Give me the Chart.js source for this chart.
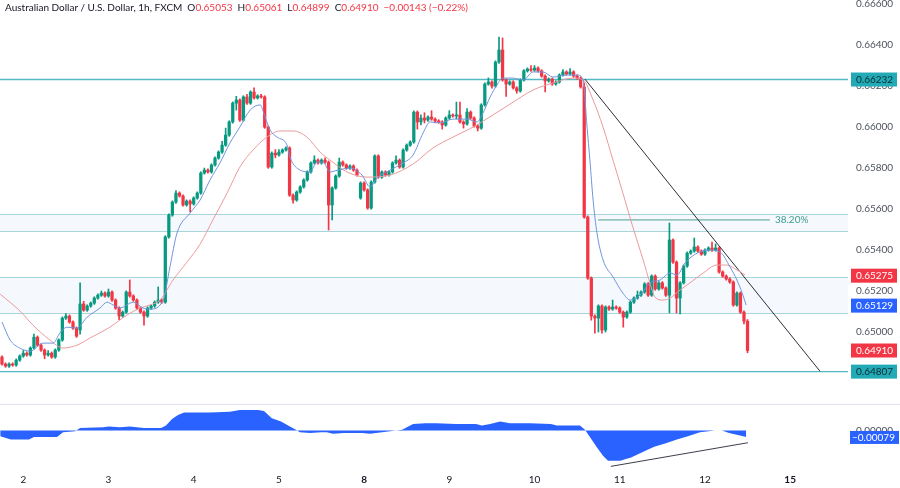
<!DOCTYPE html>
<html>
<head>
<meta charset="utf-8">
<script src="https://cdn.jsdelivr.net/npm/chart.js@4.4.0/dist/chart.umd.min.js"></script>
<style>
  body { margin: 0; background: #fff; width: 900px; height: 488px; overflow: hidden; position: relative; }
  #pricebox { position: absolute; left: 0; top: 0; width: 900px; height: 404px; }
  #oscbox { position: absolute; left: 0; top: 404px; width: 900px; height: 84px; }
  #sep { position: absolute; left: 0; top: 404px; width: 900px; height: 1px; background: #e0e3eb; z-index: 2; }
  #title { position: absolute; left: 5px; top: 1px; font: 10px Lato, 'Noto Sans', sans-serif; color: #131722; white-space: nowrap; z-index: 3; }
  #title .v { color: #f23645; }
  #title .g { margin-left: 5px; }
</style>
</head>
<body>
<div id="title">Australian Dollar / U.S. Dollar, 1h, FXCM<span class="g">O<span class="v">0.65053</span></span><span class="g">H<span class="v">0.65061</span></span><span class="g">L<span class="v">0.64899</span></span><span class="g">C<span class="v">0.64910</span></span><span class="g v">−0.00143 (−0.22%)</span></div>
<div id="pricebox"><canvas id="price"></canvas></div>
<div id="sep"></div>
<div id="oscbox"><canvas id="osc"></canvas></div>
<script>
// AUD/USD 1h candles (index 0 = first visible bar)
var opens = [
  0.64878,0.64844,0.64834,0.64844,0.64839,0.64863,0.64883,0.64897,0.64888,0.64922,
  0.64975,0.64936,0.64912,0.64888,0.64897,0.64878,0.64912,0.64961,0.65068,0.65078,
  0.65049,0.65019,0.65010,0.65137,0.65107,0.65127,0.65141,0.65166,0.65180,0.65190,
  0.65176,0.65195,0.65156,0.65117,0.65078,0.65097,0.65195,0.65176,0.65156,0.65117,
  0.65097,0.65078,0.65117,0.65127,0.65146,0.65156,0.65146,0.65464,0.65571,0.65634,
  0.65678,0.65664,0.65620,0.65639,0.65625,0.65654,0.65678,0.65776,0.65790,0.65781,
  0.65815,0.65849,0.65878,0.65912,0.65961,0.66025,0.66117,0.66132,0.66034,0.66147,
  0.66117,0.66171,0.66142,0.66152,0.66147,0.66000,0.65805,0.65873,0.65864,0.65878,
  0.65888,0.65898,0.65668,0.65644,0.65683,0.65708,0.65742,0.65781,0.65825,0.65839,
  0.65825,0.65839,0.65829,0.65620,0.65703,0.65761,0.65829,0.65815,0.65800,0.65810,
  0.65790,0.65654,0.65727,0.65693,0.65605,0.65732,0.65859,0.65756,0.65781,0.65766,
  0.65781,0.65825,0.65839,0.65805,0.65888,0.65912,0.65927,0.66073,0.66025,0.66044,
  0.66034,0.66049,0.66039,0.66030,0.66025,0.66010,0.66044,0.66059,0.66054,0.66059,
  0.66025,0.66015,0.66073,0.66044,0.66005,0.65995,0.66108,0.66210,0.66220,0.66200,
  0.66317,0.66376,0.66230,0.66210,0.66220,0.66191,0.66176,0.66230,0.66274,0.66283,
  0.66278,0.66288,0.66274,0.66249,0.66225,0.66234,0.66210,0.66220,0.66254,0.66269,
  0.66259,0.66269,0.66249,0.66239,0.66196,0.65561,0.65263,0.65078,0.65068,0.65127,
  0.65010,0.65122,0.65112,0.65122,0.65117,0.65097,0.65073,0.65097,0.65146,0.65166,
  0.65180,0.65195,0.65235,0.65180,0.65273,0.65210,0.65240,0.65215,0.65180,0.65449,
  0.65341,0.65166,0.65240,0.65322,0.65385,0.65395,0.65415,0.65395,0.65380,0.65400,
  0.65410,0.65400,0.65410,0.65293,0.65273,0.65259,0.65244,0.65132,0.65190,0.65097,
  0.65053
];
var highs = [
  0.64884,0.64850,0.64850,0.64850,0.64869,0.64889,0.64910,0.64903,0.64928,0.64990,
  0.64981,0.64942,0.64918,0.64910,0.64903,0.64918,0.64967,0.65074,0.65090,0.65084,
  0.65055,0.65025,0.65240,0.65150,0.65133,0.65147,0.65172,0.65186,0.65200,0.65196,
  0.65210,0.65201,0.65162,0.65123,0.65103,0.65201,0.65254,0.65182,0.65162,0.65123,
  0.65103,0.65123,0.65133,0.65152,0.65220,0.65162,0.65470,0.65577,0.65640,0.65690,
  0.65684,0.65670,0.65645,0.65645,0.65660,0.65684,0.65782,0.65800,0.65796,0.65821,
  0.65855,0.65884,0.65930,0.65995,0.66031,0.66123,0.66150,0.66138,0.66153,0.66160,
  0.66177,0.66191,0.66158,0.66160,0.66153,0.66006,0.65879,0.65890,0.65890,0.65894,
  0.65904,0.65904,0.65674,0.65689,0.65714,0.65748,0.65787,0.65831,0.65860,0.65845,
  0.65845,0.65850,0.65835,0.65709,0.65767,0.65849,0.65835,0.65821,0.65816,0.65816,
  0.65796,0.65733,0.65733,0.65699,0.65738,0.65865,0.65865,0.65787,0.65787,0.65787,
  0.65831,0.65860,0.65845,0.65894,0.65918,0.65933,0.66079,0.66079,0.66060,0.66070,
  0.66055,0.66080,0.66045,0.66036,0.66031,0.66050,0.66080,0.66065,0.66122,0.66122,
  0.66031,0.66090,0.66079,0.66050,0.66011,0.66114,0.66216,0.66240,0.66226,0.66323,
  0.66439,0.66435,0.66236,0.66226,0.66226,0.66197,0.66236,0.66280,0.66289,0.66300,
  0.66300,0.66294,0.66280,0.66255,0.66240,0.66240,0.66226,0.66260,0.66280,0.66275,
  0.66285,0.66275,0.66255,0.66245,0.66215,0.65567,0.65269,0.65084,0.65133,0.65133,
  0.65128,0.65128,0.65156,0.65128,0.65123,0.65103,0.65103,0.65152,0.65172,0.65200,
  0.65201,0.65241,0.65241,0.65279,0.65279,0.65246,0.65246,0.65221,0.65532,0.65455,
  0.65347,0.65246,0.65328,0.65391,0.65401,0.65459,0.65421,0.65401,0.65406,0.65416,
  0.65439,0.65430,0.65416,0.65299,0.65279,0.65265,0.65250,0.65196,0.65196,0.65103,
  0.65061
];
var lows = [
  0.64838,0.64828,0.64828,0.64833,0.64833,0.64857,0.64877,0.64882,0.64882,0.64916,
  0.64930,0.64906,0.64870,0.64882,0.64872,0.64872,0.64906,0.64955,0.65062,0.65043,
  0.65013,0.64974,0.64990,0.65101,0.65101,0.65121,0.65135,0.65160,0.65174,0.65170,
  0.65170,0.65150,0.65111,0.65060,0.65072,0.65091,0.65170,0.65150,0.65111,0.65091,
  0.65034,0.65072,0.65111,0.65121,0.65140,0.65140,0.65140,0.65458,0.65565,0.65628,
  0.65658,0.65614,0.65614,0.65586,0.65619,0.65648,0.65672,0.65770,0.65775,0.65775,
  0.65809,0.65843,0.65872,0.65906,0.65955,0.66019,0.66083,0.66028,0.66028,0.66111,
  0.66111,0.66136,0.66136,0.66141,0.65994,0.65799,0.65799,0.65850,0.65858,0.65872,
  0.65882,0.65662,0.65629,0.65638,0.65677,0.65702,0.65736,0.65775,0.65819,0.65819,
  0.65819,0.65823,0.65498,0.65547,0.65697,0.65755,0.65809,0.65794,0.65794,0.65784,
  0.65760,0.65648,0.65687,0.65599,0.65599,0.65726,0.65750,0.65750,0.65760,0.65760,
  0.65775,0.65819,0.65799,0.65799,0.65882,0.65906,0.65921,0.65990,0.66010,0.66020,
  0.66028,0.66033,0.66020,0.66019,0.65990,0.66004,0.66038,0.66048,0.66040,0.66019,
  0.65995,0.66009,0.66038,0.65999,0.65981,0.65989,0.66102,0.66204,0.66190,0.66194,
  0.66311,0.66224,0.66150,0.66204,0.66185,0.66165,0.66170,0.66224,0.66268,0.66272,
  0.66272,0.66268,0.66243,0.66171,0.66219,0.66204,0.66204,0.66214,0.66248,0.66253,
  0.66253,0.66243,0.66233,0.66190,0.65555,0.65257,0.65058,0.64995,0.65000,0.64995,
  0.65000,0.65106,0.65106,0.65111,0.65091,0.65024,0.65067,0.65091,0.65140,0.65160,
  0.65174,0.65189,0.65174,0.65174,0.65204,0.65204,0.65209,0.65174,0.65093,0.65335,
  0.65093,0.65088,0.65234,0.65316,0.65379,0.65389,0.65389,0.65374,0.65374,0.65394,
  0.65394,0.65394,0.65287,0.65267,0.65253,0.65238,0.65126,0.65126,0.65091,0.65040,
  0.64899
];
var closes = [
  0.64844,0.64834,0.64844,0.64839,0.64863,0.64883,0.64897,0.64888,0.64922,0.64975,
  0.64936,0.64912,0.64888,0.64897,0.64878,0.64912,0.64961,0.65068,0.65078,0.65049,
  0.65019,0.64980,0.65137,0.65107,0.65127,0.65141,0.65166,0.65180,0.65190,0.65176,
  0.65195,0.65156,0.65117,0.65078,0.65097,0.65195,0.65176,0.65156,0.65117,0.65097,
  0.65078,0.65117,0.65127,0.65146,0.65156,0.65146,0.65464,0.65571,0.65634,0.65678,
  0.65664,0.65620,0.65639,0.65625,0.65654,0.65678,0.65776,0.65790,0.65781,0.65815,
  0.65849,0.65878,0.65912,0.65961,0.66025,0.66117,0.66132,0.66034,0.66147,0.66117,
  0.66171,0.66142,0.66152,0.66147,0.66000,0.65805,0.65873,0.65864,0.65878,0.65888,
  0.65898,0.65668,0.65644,0.65683,0.65708,0.65742,0.65781,0.65825,0.65839,0.65825,
  0.65839,0.65829,0.65620,0.65703,0.65761,0.65829,0.65815,0.65800,0.65810,0.65790,
  0.65766,0.65727,0.65693,0.65605,0.65732,0.65859,0.65756,0.65781,0.65766,0.65781,
  0.65825,0.65839,0.65805,0.65888,0.65912,0.65927,0.66073,0.66025,0.66044,0.66034,
  0.66049,0.66039,0.66030,0.66025,0.66010,0.66044,0.66059,0.66054,0.66059,0.66025,
  0.66015,0.66073,0.66044,0.66005,0.65995,0.66108,0.66210,0.66220,0.66200,0.66317,
  0.66376,0.66230,0.66210,0.66220,0.66191,0.66176,0.66230,0.66274,0.66283,0.66278,
  0.66288,0.66274,0.66249,0.66225,0.66234,0.66210,0.66220,0.66254,0.66269,0.66259,
  0.66269,0.66249,0.66239,0.66196,0.65561,0.65263,0.65078,0.65068,0.65127,0.65010,
  0.65122,0.65112,0.65122,0.65117,0.65097,0.65073,0.65097,0.65146,0.65166,0.65180,
  0.65195,0.65235,0.65180,0.65273,0.65210,0.65240,0.65215,0.65180,0.65449,0.65341,
  0.65166,0.65240,0.65322,0.65385,0.65395,0.65415,0.65395,0.65380,0.65400,0.65410,
  0.65400,0.65410,0.65293,0.65273,0.65259,0.65244,0.65132,0.65190,0.65097,0.65053,
  0.64910
];

// fast (blue) and slow (pink) moving averages, read at bar positions
var blueIdx = [0,2.3,5,8,11.5,14.4,16.3,18.3,21,24,27.6,29.6,31.3,33.2,37,39.7,41.7,45.4,47.3,49.3,53,55.8,58.6,61.4,64.2,67,69.9,72.7,74.1,75.5,77.5,80.3,81.1,84,86.8,88.7,90.4,92.4,94.6,98,101.4,103.7,105.6,109.3,113,115.8,118.6,120.6,123.4,127,131,133.8,135.5,137.5,139.4,141.1,143.9,146.8,149.6,152.4,155.2,159.2,162,163.7,164.8,165.6,166.5,167.6,169.3,172.1,174.9,176.9,179.7,182.5,185.4,188.2,190.1,192.4,195.8,199.4,202.3,205.1,207,208.5,209.6];
var blueVals = [0.65049,0.64961,0.64922,0.64907,0.64946,0.64946,0.64995,0.65024,0.65019,0.65073,0.65117,0.65146,0.65132,0.65117,0.65146,0.65117,0.65112,0.65156,0.65317,0.65483,0.65581,0.65644,0.65742,0.65825,0.65922,0.66000,0.66083,0.66108,0.66049,0.65986,0.65951,0.65912,0.65854,0.65790,0.65781,0.65829,0.65829,0.65781,0.65790,0.65800,0.65766,0.65708,0.65751,0.65790,0.65825,0.65864,0.65971,0.66025,0.66020,0.66039,0.66039,0.66025,0.66069,0.66147,0.66205,0.66239,0.66239,0.66230,0.66269,0.66269,0.66244,0.66254,0.66254,0.66230,0.66000,0.65839,0.65644,0.65483,0.65352,0.65269,0.65190,0.65156,0.65180,0.65240,0.65254,0.65288,0.65278,0.65337,0.65385,0.65400,0.65390,0.65317,0.65254,0.65190,0.65132];
var pinkIdx = [-0.5,5.1,8.7,13.5,17.2,21.1,24.8,30.4,35.2,38.9,41.7,44.5,48.2,52.1,55.8,59.4,63.4,67,70.7,74.6,78.3,82,85.9,89.6,92.4,97.2,102.8,109.3,115.8,121.4,127,132.7,138.3,144,149.6,155.2,160.8,163.7,166.5,169.3,172.1,174.9,177.7,180.6,182.5,183.9,186.2,188.2,191,193.8,197.5,201.4,204.2,207,209.3];
var pinkVals = [0.65185,0.65102,0.65034,0.64961,0.64922,0.64936,0.64971,0.65024,0.65083,0.65117,0.65132,0.65156,0.65254,0.65341,0.65429,0.65547,0.65678,0.65805,0.65888,0.65951,0.65981,0.65981,0.65951,0.65878,0.65839,0.65781,0.65756,0.65766,0.65820,0.65898,0.65951,0.66000,0.66059,0.66122,0.66181,0.66215,0.66239,0.66230,0.66132,0.66000,0.65839,0.65678,0.65512,0.65352,0.65240,0.65171,0.65156,0.65166,0.65205,0.65240,0.65288,0.65327,0.65327,0.65303,0.65278];

// lower pane oscillator
var oscIdx = [-0.5,2.5,7.6,9,15.5,17.2,20.6,22,28.5,30.1,33.2,36,40,41.7,44.8,46.2,47.9,49.6,51.3,58.6,64.2,67,72.1,73.8,76,78.6,81.1,82.8,83.9,86.8,89.9,91.5,93.2,96.3,101.4,103.7,109.3,112.7,115.8,119.2,122.3,127.9,133.5,135.2,137.5,140.3,143.1,148.7,154.6,156.3,162.8,164.2,165.6,167.6,169.3,170.7,174.1,177.2,181.1,183.7,186.8,190.1,193.2,196.6,200.8,202.8,204.8,207.9,209.6];
var oscVals = [-0.0007,-0.0011,-0.0011,-0.0008,-0.0008,-0.0002,-0.0001,0.0003,0.0004,0.0005,0.0004,0.0005,0.0003,0.0003,0.0003,0.0006,0.0014,0.0019,0.0022,0.0022,0.0023,0.0025,0.0025,0.0024,0.0015,0.0011,0.0005,0.0001,-0.0002,-0.0003,-0.0002,-0.0002,-0.0004,-0.0003,-0.0003,-0.0004,-0.0001,0.0001,0.0008,0.0009,0.0009,0.0008,0.0008,0.0006,0.0008,0.0011,0.0009,0.0009,0.0008,0.0006,0.0006,0.0001,-0.0008,-0.0021,-0.0031,-0.0037,-0.0037,-0.0033,-0.0025,-0.0020,-0.0016,-0.0011,-0.0007,-0.0002,0.0000,0.0000,-0.0003,-0.0006,-0.00079];

// x axis day labels and where each day starts (bar index)
var dayLabels = ['2', '3', '4', '5', '8', '9', '10', '11', '12', '15'];
var dayIdx = [6, 30, 54, 78, 102, 126, 150, 174, 198, 222];
var weekStarts = ['8', '15'];

var priceTicks = [0.666, 0.664, 0.662, 0.660, 0.658, 0.656, 0.654, 0.652, 0.650, 0.648];

// drawings
var hLevels = [0.66232, 0.64807];
var zones = [[0.65576, 0.65493], [0.65270, 0.65091]];
var fibLevel = 0.65547, fibFrom = 167.9, fibTo = 216.3;
var trendIdx = [164.2, 230.4], trendVals = [0.66234, 0.64809];
var divIdx = [171.5, 210.1], divVals = [-0.0044, -0.0015];

// last-value tags on the price axis
var tagVals = [0.66232, 0.65275, 0.65129, 0.64910, 0.64807];
var oscTag = -0.00079;

const fontFamily = "Lato, 'Noto Sans', sans-serif";
const fontSize = 10;
const upColor = '#089981', downColor = '#f23645';
const xMin = -0.56, xMax = 238.3;

var bodies = [], wicks = [], candleColors = [];
for (let i = 0; i < closes.length; i++) {
  bodies.push({ x: i, y: [opens[i], closes[i]] });
  wicks.push({ x: i, y: [lows[i], highs[i]] });
  candleColors.push(closes[i] >= opens[i] ? upColor : downColor);
}
const pts = (xs, ys) => xs.map((x, k) => ({ x: x, y: ys[k] }));

// horizontal levels and zones behind the candles
const levelsPlugin = {
  id: 'levels',
  beforeDatasetsDraw(chart) {
    const ctx = chart.ctx, a = chart.chartArea, y = chart.scales.y;
    ctx.save();
    zones.forEach(z => {
      const y1 = y.getPixelForValue(z[0]), y2 = y.getPixelForValue(z[1]);
      ctx.fillStyle = 'rgba(225,236,246,0.35)';
      ctx.fillRect(a.left, y1, a.right - a.left, y2 - y1);
      ctx.strokeStyle = '#a8d5da';
      ctx.lineWidth = 1;
      [y1, y2].forEach(p => {
        ctx.beginPath();
        ctx.moveTo(a.left, Math.round(p) + 0.5);
        ctx.lineTo(a.right, Math.round(p) + 0.5);
        ctx.stroke();
      });
    });
    ctx.strokeStyle = '#55b9c2';
    ctx.lineWidth = 1.4;
    hLevels.forEach(v => {
      const p = y.getPixelForValue(v);
      ctx.beginPath();
      ctx.moveTo(a.left, p);
      ctx.lineTo(a.right, p);
      ctx.stroke();
    });
    ctx.restore();
  },
  afterDraw(chart) {
    const ctx = chart.ctx, a = chart.chartArea, y = chart.scales.y, x = chart.scales.x;
    ctx.save();
    // fib label
    ctx.font = fontSize + 'px ' + fontFamily;
    ctx.fillStyle = '#3d9c8f';
    ctx.textBaseline = 'middle';
    ctx.fillText('38.20%', x.getPixelForValue(fibTo) + 5, y.getPixelForValue(fibLevel));
    // axis tags
    const tagStyle = [
      ['#22abb7', '#0d2c30'], ['#f23645', '#ffffff'], ['#2962ff', '#ffffff'],
      ['#f23645', '#ffffff'], ['#22abb7', '#0d2c30']
    ];
    tagVals.forEach((v, k) => {
      const p = y.getPixelForValue(v);
      ctx.fillStyle = tagStyle[k][0];
      ctx.fillRect(a.right + 3, p - 7, 46, 14);
      ctx.fillStyle = tagStyle[k][1];
      ctx.fillText(v.toFixed(5), a.right + 8, p + 0.5);
    });
    ctx.restore();
  }
};

const oscTagPlugin = {
  id: 'oscTag',
  afterDraw(chart) {
    const ctx = chart.ctx, a = chart.chartArea, y = chart.scales.y;
    const p = y.getPixelForValue(oscTag);
    ctx.save();
    ctx.font = fontSize + 'px ' + fontFamily;
    ctx.textBaseline = 'middle';
    ctx.fillStyle = '#2962ff';
    ctx.fillRect(a.right + 2, p - 6, 49, 13);
    ctx.fillStyle = '#ffffff';
    ctx.fillText(oscTag.toFixed(5).replace('-', '\u2212'), a.right + 4, p + 0.5);
    ctx.restore();
  }
};

const fixY = s => { s.width = 52; s.paddingTop = 0; s.paddingBottom = 0; };

new Chart(document.getElementById('price'), {
  type: 'bar',
  data: {
    datasets: [
      { type: 'line', data: pts(blueIdx, blueVals), borderColor: '#6f95dc', borderWidth: 1, pointRadius: 0, cubicInterpolationMode: 'monotone', order: 0 },
      { type: 'line', data: pts(pinkIdx, pinkVals), borderColor: '#eb9a9d', borderWidth: 1, pointRadius: 0, cubicInterpolationMode: 'monotone', order: 0 },
      { type: 'line', data: pts(trendIdx, trendVals), borderColor: '#2a2e39', borderWidth: 1, pointRadius: 0, order: 0 },
      { type: 'line', data: pts([fibFrom, fibTo], [fibLevel, fibLevel]), borderColor: '#4e9e91', borderWidth: 1, pointRadius: 0, order: 0 },
      { data: bodies, backgroundColor: candleColors, barThickness: 2.6, minBarLength: 1, grouped: false, order: 1 },
      { data: wicks, backgroundColor: candleColors, barThickness: 1, grouped: false, order: 2 }
    ]
  },
  options: {
    responsive: true,
    maintainAspectRatio: false,
    animation: false,
    layout: { padding: 0 },
    plugins: { legend: { display: false }, tooltip: { enabled: false } },
    scales: {
      x: { type: 'linear', min: xMin, max: xMax, offset: false, display: false },
      y: {
        position: 'right', min: 0.64649, max: 0.66620,
        grid: { display: false, drawTicks: false }, border: { display: false },
        ticks: { padding: 8, color: '#4c525e', font: { family: fontFamily, size: fontSize }, callback: v => v.toFixed(5) },
        afterBuildTicks: s => { s.ticks = priceTicks.map(v => ({ value: v })); },
        afterFit: fixY
      }
    }
  },
  plugins: [levelsPlugin]
});

new Chart(document.getElementById('osc'), {
  type: 'line',
  data: {
    datasets: [
      { data: pts(oscIdx, oscVals), borderWidth: 0, borderColor: '#2962ff', backgroundColor: '#2962ff', fill: 'origin', pointRadius: 0, order: 1 },
      { data: pts(divIdx, divVals), borderColor: '#3a3e48', borderWidth: 1, pointRadius: 0, fill: false, order: 0 }
    ]
  },
  options: {
    responsive: true,
    maintainAspectRatio: false,
    animation: false,
    layout: { padding: 0 },
    plugins: { legend: { display: false }, tooltip: { enabled: false } },
    scales: {
      x: {
        type: 'linear', min: xMin, max: xMax, offset: false,
        grid: { display: false, drawTicks: false }, border: { display: false },
        ticks: {
          autoSkip: false, maxRotation: 0, padding: 6, color: '#131722',
          font: ctx => ({ family: fontFamily, size: fontSize, weight: weekStarts.includes(dayLabels[ctx.index]) ? '700' : '400' }),
          callback: (v, i) => dayLabels[i]
        },
        afterBuildTicks: s => { s.ticks = dayIdx.map(v => ({ value: v })); },
        afterFit: s => { s.height = 20; s.paddingLeft = 0; s.paddingRight = 0; }
      },
      y: {
        position: 'right', min: -0.0046, max: 0.00325,
        grid: { display: false, drawTicks: false }, border: { display: false },
        ticks: { padding: 8, color: '#4c525e', font: { family: fontFamily, size: fontSize }, callback: v => v.toFixed(5) },
        afterBuildTicks: s => { s.ticks = [{ value: 0 }]; },
        afterFit: fixY
      }
    }
  },
  plugins: [oscTagPlugin]
});
</script>
</body>
</html>
